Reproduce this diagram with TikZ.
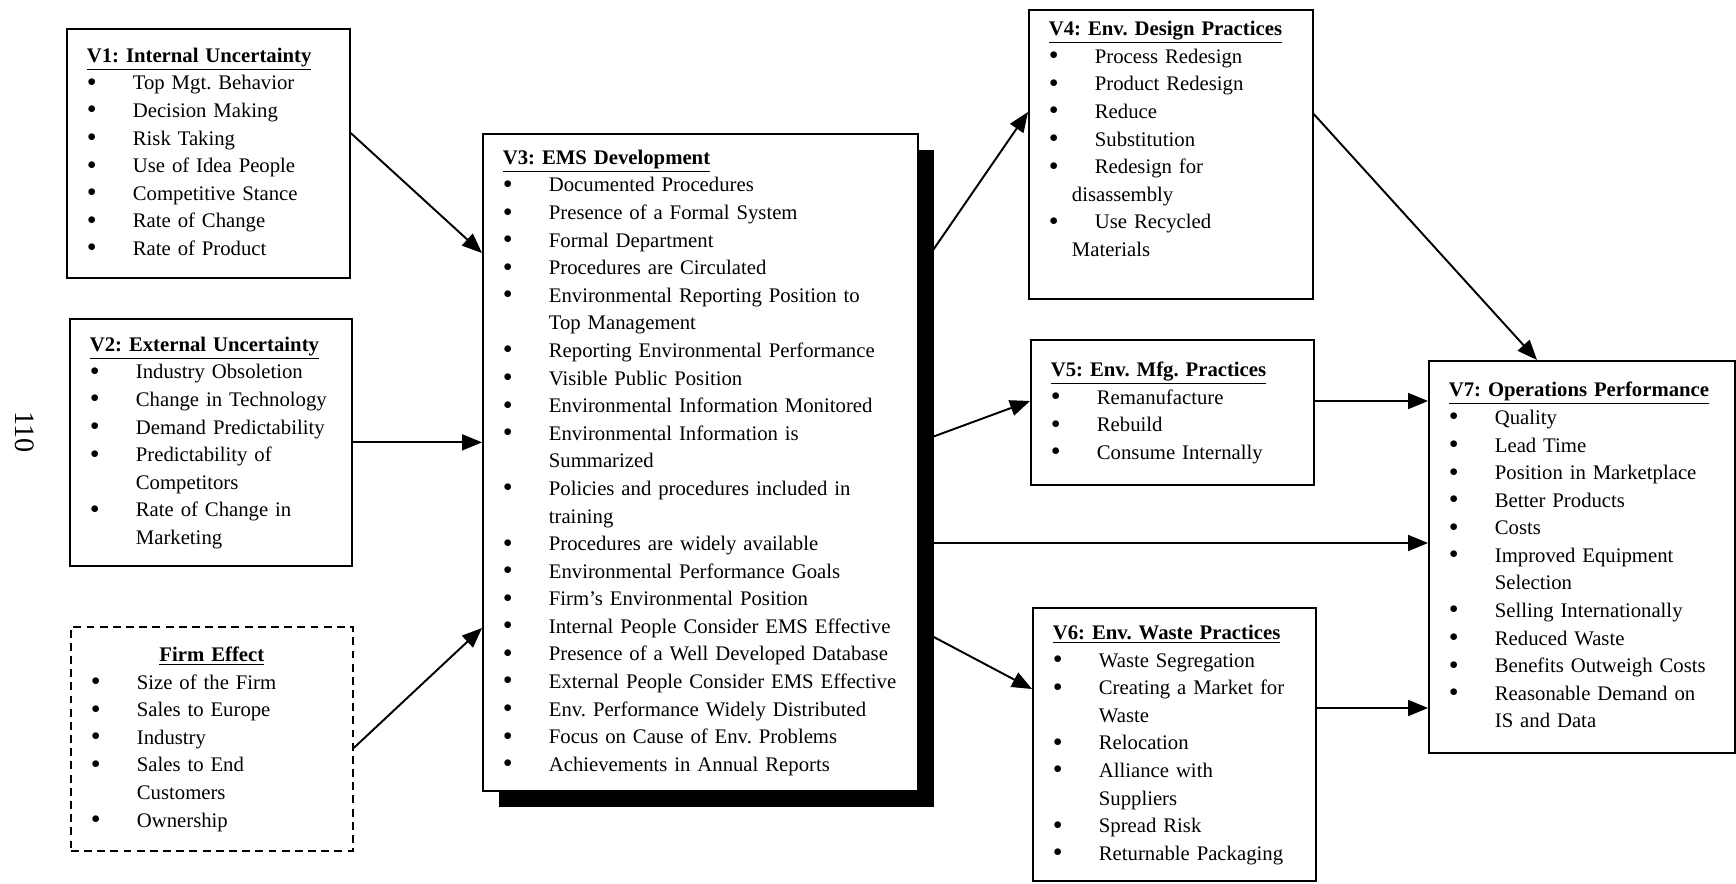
\documentclass[tikz,border=0pt]{standalone}
\usepackage{fontspec}
\setmainfont{Liberation Serif}
\usetikzlibrary{arrows.meta, positioning, calc, shadows}
\newcommand{\ttl}[1]{\noindent\strut\underline{\textbf{#1}}}
\newcommand{\itm}[1]{\par\noindent\strut\makebox[0.92cm][l]{\raisebox{-0.15ex}{\fontsize{16}{16}\selectfont\textbullet}}\mbox{#1}}
\newcommand{\cont}[2][0.92cm]{\par\noindent\strut\hspace*{#1}\mbox{#2}}
\tikzset{
	panel/.style={rectangle, draw=black, fill=white, line width=1pt, anchor=north west, inner xsep=0.4cm, inner ysep=0pt, align=left, font=\fontsize{11.8}{15.7}\selectfont\frenchspacing},
	dashpanel/.style={panel, dash pattern=on 4.5pt off 3pt},
	shadowpanel/.style={panel, drop shadow={shadow xshift=0.32cm, shadow yshift=-0.32cm, fill=black, opacity=1}},
	arrow/.style={-{Triangle[length=0.4cm, width=0.32cm]}, line width=1.1pt},
}
\begin{document}
\begin{tikzpicture}[x=0.02cm, y=-0.02cm]
		\useasboundingbox (0,0) rectangle (1736,883);
		\node[rotate=-90, font=\fontsize{16}{16}\selectfont] (pgno) at (25,432) {110};
		\node[panel, text width=4.86cm, minimum height=4.98cm] (v1) at (66,28) {\ttl{V1: Internal Uncertainty}
			\itm{Top Mgt. Behavior}\itm{Decision Making}\itm{Risk Taking}\itm{Use of Idea People}\itm{Competitive Stance}\itm{Rate of Change}\itm{Rate of Product}};
		\node[panel, text width=4.84cm, minimum height=4.94cm] (v2) at (69,318) {\ttl{V2: External Uncertainty}
			\itm{Industry Obsoletion}\itm{Change in Technology}\itm{Demand Predictability}\itm{Predictability of}\cont{Competitors}\itm{Rate of Change in}\cont{Marketing}};
		\node[dashpanel, text width=4.84cm, minimum height=4.48cm] (firm) at (70,626) {\noindent\makebox[\hsize]{\strut\underline{\textbf{Firm Effect}}}
			\itm{Size of the Firm}\itm{Sales to Europe}\itm{Industry}\itm{Sales to End}\cont{Customers}\itm{Ownership}};
		\node[shadowpanel, text width=7.9cm, minimum height=13.14cm] (v3) at (482,133) {\ttl{V3: EMS Development}
			\itm{Documented Procedures}\itm{Presence of a Formal System}\itm{Formal Department}\itm{Procedures are Circulated}
			\itm{Environmental Reporting Position to}\cont{Top Management}\itm{Reporting Environmental Performance}\itm{Visible Public Position}
			\itm{Environmental Information Monitored}\itm{Environmental Information is}\cont{Summarized}
			\itm{Policies and procedures included in}\cont{training}\itm{Procedures are widely available}\itm{Environmental Performance Goals}
			\itm{Firm's Environmental Position}\itm{Internal People Consider EMS Effective}\itm{Presence of a Well Developed Database}
			\itm{External People Consider EMS Effective}\itm{Env. Performance Widely Distributed}\itm{Focus on Cause of Env. Problems}
			\itm{Achievements in Annual Reports}};
		\node[panel, text width=4.88cm, minimum height=5.78cm] (v4) at (1028,9) {\ttl{V4: Env. Design Practices}
			\itm{Process Redesign}\itm{Product Redesign}\itm{Reduce}\itm{Substitution}\itm{Redesign for}\cont[0.46cm]{disassembly}
			\itm{Use Recycled}\cont[0.46cm]{Materials}\par\strut};
		\node[panel, text width=4.86cm, minimum height=2.9cm] (v5) at (1030,339) {\ttl{V5: Env. Mfg. Practices}
			\itm{Remanufacture}\itm{Rebuild}\itm{Consume Internally}};
		\node[panel, text width=4.86cm, minimum height=5.46cm] (v6) at (1032,607) {\ttl{V6: Env. Waste Practices}
			\itm{Waste Segregation}\itm{Creating a Market for}\cont{Waste}\itm{Relocation}\itm{Alliance with}\cont{Suppliers}
			\itm{Spread Risk}\itm{Returnable Packaging}};
		\node[panel, text width=5.32cm, minimum height=7.84cm] (v7) at (1428,360) {\ttl{V7: Operations Performance}
			\itm{Quality}\itm{Lead Time}\itm{Position in Marketplace}\itm{Better Products}\itm{Costs}\itm{Improved Equipment}\cont{Selection}
			\itm{Selling Internationally}\itm{Reduced Waste}\itm{Benefits Outweigh Costs}\itm{Reasonable Demand on}\cont{IS and Data}};
		\coordinate (o3) at ($(v3.north east)+(0,410)$);
		\coordinate (o5) at ($(v5.north east)+(0,62)$);
		\coordinate (o6) at ($(v6.north east)+(0,101)$);
		\draw[arrow] ($(v1.north east)+(0,105)$) -- ($(v3.north west)+(0,120)$);
		\draw[arrow] (v2.east) -- (v2.east -| v3.west);
		\draw[arrow] ($(firm.north east)+(0,122)$) -- ($(v3.north west)+(0,495)$);
		\draw[arrow] ($(v3.north east)+(0,138)$) -- ($(v4.north west)+(0,103)$);
		\draw[arrow] ($(v3.north east)+(0,309)$) -- ($(v5.north west)+(0,62)$);
		\draw[arrow] ($(v3.north east)+(0,496)$) -- ($(v6.north west)+(0,82)$);
		\draw[arrow] (o3) -- (o3 -| v7.west);
		\draw[arrow] ($(v4.north east)+(0,105)$) -- ($(v7.north west)+(109,0)$);
		\draw[arrow] (o5) -- (o5 -| v7.west);
		\draw[arrow] (o6) -- (o6 -| v7.west);
	\end{tikzpicture}
\end{document}
